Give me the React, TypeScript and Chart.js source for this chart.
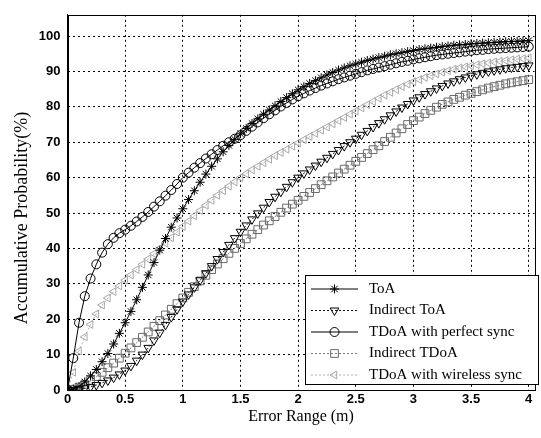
import React, { useEffect, useRef } from "react";
import { Chart, registerables } from "chart.js";
import { drawPoint } from "chart.js/helpers";

Chart.register(...registerables);

// Error range (m)
const errorRange = [0, 0.05, 0.1, 0.15, 0.2, 0.25, 0.3, 0.35, 0.4, 0.45, 0.5, 0.55, 0.6, 0.65, 0.7, 0.75, 0.8, 0.85, 0.9, 0.95, 1, 1.05, 1.1, 1.15, 1.2, 1.25, 1.3, 1.35, 1.4, 1.45, 1.5, 1.55, 1.6, 1.65, 1.7, 1.75, 1.8, 1.85, 1.9, 1.95, 2, 2.05, 2.1, 2.15, 2.2, 2.25, 2.3, 2.35, 2.4, 2.45, 2.5, 2.55, 2.6, 2.65, 2.7, 2.75, 2.8, 2.85, 2.9, 2.95, 3, 3.05, 3.1, 3.15, 3.2, 3.25, 3.3, 3.35, 3.4, 3.45, 3.5, 3.55, 3.6, 3.65, 3.7, 3.75, 3.8, 3.85, 3.9, 3.95, 4];

const toa = [
  0, 0.3, 1, 2.3, 4, 5.8, 8, 10.3, 13, 16,
  19, 22.2, 25.5, 29, 32.5, 36, 39.5, 42.8, 46, 48.6,
  51.2, 53.8, 56.3, 58.7, 61, 63.2, 65.3, 67.3, 69.1, 70.8,
  72.4, 73.9, 75.3, 76.6, 77.9, 79.1, 80.3, 81.5, 82.6, 83.7,
  84.8, 85.7, 86.6, 87.4, 88.2, 89, 89.7, 90.4, 91, 91.6,
  92.1, 92.6, 93.1, 93.5, 93.9, 94.3, 94.7, 95, 95.3, 95.6,
  95.9, 96.2, 96.4, 96.6, 96.8, 97, 97.2, 97.4, 97.5, 97.6,
  97.8, 97.9, 98, 98.1, 98.2, 98.3, 98.4, 98.5, 98.5, 98.6,
  98.7,
];

const indirectToa = [
  0, 0, 0.2, 0.5, 0.9, 1.4, 2, 2.7, 3.5, 4.4,
  5.5, 6.8, 8.3, 10, 11.9, 14, 16.2, 18.4, 20.6, 22.8,
  25, 27, 29, 31, 33, 35, 37, 39, 41, 42.9,
  44.7, 46.5, 48.2, 49.9, 51.5, 53.1, 54.6, 56, 57.4, 58.7,
  60, 61.2, 62.3, 63.4, 64.5, 65.6, 66.7, 67.8, 68.9, 70,
  71, 72.1, 73.2, 74.3, 75.4, 76.5, 77.6, 78.7, 79.8, 80.8,
  81.8, 82.7, 83.6, 84.4, 85.2, 85.9, 86.6, 87.2, 87.8, 88.3,
  88.8, 89.2, 89.6, 90, 90.3, 90.6, 90.9, 91.1, 91.3, 91.5,
  91.7,
];

const tdoaPerfect = [
  0, 9, 19, 26.5, 31.5, 35.5, 38.8, 41.2, 43, 44.3,
  45.3, 46.4, 47.6, 48.9, 50.3, 51.8, 53.3, 54.9, 56.5, 58.2,
  60, 61.4, 62.8, 64.1, 65.4, 66.6, 67.8, 69, 70, 71,
  72, 73.2, 74.4, 75.6, 76.8, 77.9, 79, 80.1, 81.1, 82.1,
  83, 83.8, 84.6, 85.3, 86, 86.6, 87.2, 87.8, 88.3, 88.8,
  89.3, 89.8, 90.3, 90.7, 91.1, 91.5, 91.9, 92.3, 92.7, 93,
  93.4, 93.7, 94, 94.3, 94.6, 94.8, 95, 95.2, 95.4, 95.6,
  95.8, 96, 96.1, 96.3, 96.4, 96.5, 96.6, 96.7, 96.8, 96.9,
  97,
];

const indirectTdoa = [
  0, 0.2, 0.8, 1.6, 2.6, 3.8, 5, 6.3, 7.6, 9,
  10.4, 11.9, 13.4, 14.9, 16.4, 18, 19.6, 21.2, 22.8, 24.4,
  26, 27.6, 29.2, 30.8, 32.4, 34, 35.6, 37.1, 38.6, 40,
  41.4, 42.7, 44, 45.3, 46.6, 47.8, 49, 50.2, 51.4, 52.5,
  53.6, 54.7, 55.8, 56.9, 58, 59.1, 60.2, 61.3, 62.4, 63.5,
  64.6, 65.7, 66.8, 67.9, 69, 70.2, 71.4, 72.6, 73.8, 75,
  76.1, 77.1, 78.1, 79, 79.9, 80.7, 81.4, 82.1, 82.7, 83.3,
  83.8, 84.3, 84.8, 85.3, 85.7, 86.1, 86.5, 86.8, 87.1, 87.4,
  87.7,
];

const tdoaWireless = [
  0, 5, 11, 15, 18.5, 21.5, 24, 26, 27.8, 29.4,
  31, 32.5, 34, 35.5, 37, 38.5, 40, 41.5, 43, 44.6,
  46.2, 47.7, 49.2, 50.7, 52.2, 53.6, 55, 56.3, 57.6, 58.8,
  60, 61.1, 62.2, 63.2, 64.2, 65.2, 66.2, 67.1, 68, 68.9,
  69.8, 70.7, 71.6, 72.5, 73.4, 74.3, 75.2, 76.1, 77, 77.9,
  78.8, 79.7, 80.6, 81.5, 82.4, 83.3, 84.1, 84.9, 85.7, 86.4,
  87.1, 87.7, 88.3, 88.8, 89.3, 89.8, 90.2, 90.6, 91, 91.3,
  91.6, 91.9, 92.2, 92.4, 92.7, 92.9, 93.1, 93.3, 93.5, 93.6,
  93.8,
];

const seriesLabels = ["ToA", "Indirect ToA", "TDoA with perfect sync", "Indirect TDoA", "TDoA with wireless sync"];
const xTitle = "Error Range (m)";
const yTitle = "Accumulative Probability(%)";

const SERIF = '"Liberation Serif", "Times New Roman", serif';
const SANS = '"Liberation Sans", Arial, sans-serif';

const overlayPlugin = {
  id: "overlay",
  afterDraw(chart: any) {
    const ctx = chart.ctx;
    const a = chart.chartArea;
    ctx.save();
    // frame
    ctx.strokeStyle = "#000";
    ctx.lineWidth = 1;
    ctx.setLineDash([]);
    ctx.strokeRect(Math.round(a.left) + 0.5, Math.round(a.top) + 0.5, Math.round(a.right - a.left), Math.round(a.bottom - a.top));

    // y title
    ctx.save();
    ctx.translate(22, 218);
    ctx.rotate(-Math.PI / 2);
    ctx.font = `18px ${SERIF}`;
    ctx.fillStyle = "#000";
    ctx.textAlign = "center";
    ctx.textBaseline = "middle";
    ctx.fillText(yTitle, 0, 0);
    ctx.restore();

    // legend
    const bx = 305.5, by = 275.5, bw = 233, bh = 109;
    ctx.fillStyle = "#fff";
    ctx.fillRect(bx, by, bw, bh);
    ctx.strokeStyle = "#000";
    ctx.strokeRect(bx, by, bw, bh);
    const rowH = 21.5;
    chart.data.datasets.forEach((ds: any, i: number) => {
      const y = by + 13.5 + i * rowH;
      ctx.save();
      ctx.strokeStyle = ds.borderColor;
      ctx.lineWidth = ds.borderWidth;
      ctx.setLineDash(ds.borderDash || []);
      ctx.beginPath();
      ctx.moveTo(311, y);
      ctx.lineTo(358, y);
      ctx.stroke();
      ctx.setLineDash([]);
      ctx.fillStyle = "rgba(0,0,0,0)";
      ctx.strokeStyle = ds.pointBorderColor;
      ctx.lineWidth = ds.pointBorderWidth;
      drawPoint(ctx, { pointStyle: ds.pointStyle, rotation: ds.pointRotation || 0, radius: ds.pointRadius, borderWidth: ds.pointBorderWidth }, 334.5, y);
      ctx.restore();
      ctx.fillStyle = "#000";
      ctx.font = `15px ${SERIF}`;
      ctx.textAlign = "left";
      ctx.textBaseline = "middle";
      ctx.fillText(ds.label, 369, y);
    });
    ctx.restore();
  },
};

export default function App() {
  const ref = useRef<HTMLCanvasElement>(null);
  useEffect(() => {
    const canvas = ref.current!;
    const mk = (vals: number[]) => vals.map((v, i) => ({ x: errorRange[i], y: v }));
    const common = {
      borderWidth: 1,
      pointBackgroundColor: "rgba(0,0,0,0)",
      pointBorderWidth: 1,
      pointHoverRadius: 0,
      tension: 0,
      fill: false,
    };
    const chart = new Chart(canvas, {
      type: "line",
      data: {
        datasets: [
          { ...common, label: seriesLabels[0], data: mk(toa), borderColor: "#000", pointBorderColor: "#000", pointStyle: "star", pointRadius: 4.5 },
          { ...common, label: seriesLabels[1], data: mk(indirectToa), borderColor: "#111", borderDash: [2, 2], pointBorderColor: "#000", pointStyle: "triangle", pointRotation: 180, pointRadius: 5 },
          { ...common, label: seriesLabels[2], data: mk(tdoaPerfect), borderColor: "#000", pointBorderColor: "#000", pointStyle: "circle", pointRadius: 4.5 },
          { ...common, label: seriesLabels[3], data: mk(indirectTdoa), borderColor: "#777", borderDash: [2, 2], pointBorderColor: "#6a6a6a", pointStyle: "rect", pointRadius: 5.5 },
          { ...common, label: seriesLabels[4], data: mk(tdoaWireless), borderColor: "#b0b0b0", borderDash: [2, 2], pointBorderColor: "#a8a8a8", pointStyle: "triangle", pointRotation: 270, pointRadius: 4.5 },
        ] as any,
      },
      options: {
        animation: false,
        responsive: false,
        events: [],
        layout: { padding: { top: 6, right: 3, left: 0, bottom: 0 } },
        plugins: { legend: { display: false }, tooltip: { enabled: false } },
        scales: {
          x: {
            type: "linear",
            min: 0,
            max: 4.05,
            afterFit: (s: any) => { s.height = 48; },
            ticks: {
              stepSize: 0.5,
              includeBounds: false,
              autoSkip: false,
              maxRotation: 0,
              padding: 2,
              color: "#000",
              font: { family: SANS, size: 13, weight: "bold" },
              callback: (v: any) => String(Number(v)),
            },
            grid: { color: "#000", lineWidth: 1, drawTicks: false },
            border: { display: true, color: "#000", width: 1, dash: [2, 3] },
            title: { display: true, text: xTitle, color: "#000", font: { family: SERIF, size: 16 }, padding: { top: 0, bottom: 12 } },
          },
          y: {
            type: "linear",
            min: 0,
            max: 106,
            afterFit: (s: any) => { s.width = 67.5; },
            ticks: {
              stepSize: 10,
              includeBounds: false,
              autoSkip: false,
              padding: 7,
              color: "#000",
              font: { family: SANS, size: 13, weight: "bold" },
            },
            grid: { color: "#000", lineWidth: 1, drawTicks: false },
            border: { display: true, color: "#000", width: 1, dash: [2, 3] },
          },
        },
      } as any,
      plugins: [overlayPlugin],
    });
    return () => chart.destroy();
  }, []);
  return (
    <div style={{ position: "absolute", left: 0, top: 0, width: 541, height: 438, background: "#fff" }}>
      <canvas ref={ref} width={541} height={438} />
    </div>
  );
}
